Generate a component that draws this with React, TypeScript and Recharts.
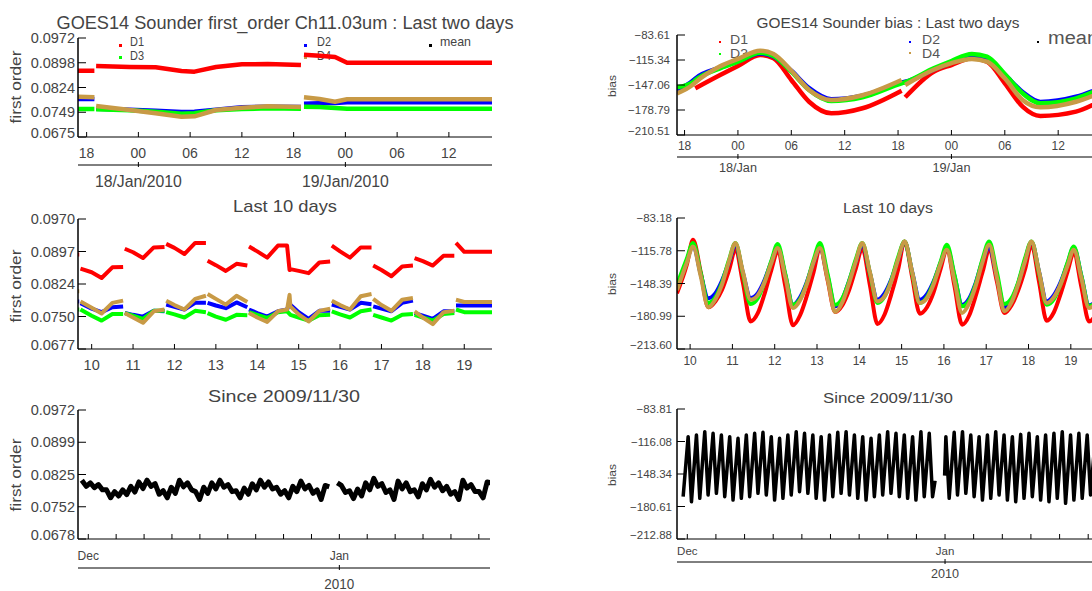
import { LineChart, Line, XAxis, YAxis } from 'recharts'

const FONT = '"Liberation Sans", Arial, sans-serif'
const INK = '#000'
const TXT = '#444'
const RED = '#ff0000'
const BLUE = '#0000ff'
const GREEN = '#00ff00'
const TAN = '#c89a46'

// ---- Last two days (hours from 18/Jan 00Z) ----
const TL_TIME = [-7, -5.1, -5.0, -4.9, -1, 2, 5, 6.5, 9, 12, 15, 18.85, 18.95, 19.2, 21, 22.8, 24.2, 30, 41]
const TL_D1 = [0.0874, 0.0874, null, 0.0888, 0.0885, 0.0884, 0.0873, 0.0871, 0.0885, 0.0893, 0.0894, 0.0891, null, 0.0922, 0.0919, 0.0915, 0.0898, 0.0898, 0.0898]
const TL_D2 = [0.0789, 0.0789, null, 0.076, 0.0757, 0.0754, 0.075, 0.0751, 0.0757, 0.0764, 0.0766, 0.0765, null, 0.0775, 0.0776, 0.0777, 0.0779, 0.0779, 0.0779]
const TL_D3 = [0.0759, 0.0759, null, 0.0758, 0.0755, 0.0751, 0.0745, 0.0746, 0.0755, 0.0759, 0.0761, 0.076, null, 0.0766, 0.0765, 0.0762, 0.076, 0.076, 0.076]
const TL_D4 = [0.0796, 0.0794, null, 0.0768, 0.0756, 0.0746, 0.0736, 0.0737, 0.0756, 0.0763, 0.0767, 0.0765, null, 0.0794, 0.0789, 0.0781, 0.0788, 0.0788, 0.0788]

const TR_TIME = [-6.85, -5, -4.9, -4.8, -2, 0, 2.5, 4, 6, 8, 10.5, 14, 18.4, 18.6, 18.8, 22, 24, 26.3, 28, 30, 32, 34, 38, 41.15]
const TR_D1 = [null, null, null, -151.3, -134.4, -122.9, -109, -113.2, -140.7, -168.3, -183, -176.6, -154.3, null, -162.7, -130.2, -121.7, -113.2, -117.5, -144.9, -174.6, -186.4, -180.9, -165]
const TR_D2 = [-153.4, -141, -140, -139, -125, -117, -107, -111, -129, -151, -165, -160.5, -144, -143.5, -143, -127.5, -118.5, -111.5, -114, -134, -156, -168.5, -162, -149]
const TR_D3 = [-150, -143, -142, -141, -125.9, -117.5, -106.1, -110.3, -130.2, -153.4, -167.4, -162.7, -144.9, -144.2, -143.5, -125.9, -116.6, -107.7, -111.1, -133.1, -157.6, -170.3, -164, -150]
const TR_D4 = [-157.6, -146, -145, -144, -123.4, -114, -103.5, -107.7, -129, -153.4, -166.1, -160, -140.7, null, -147, -127.7, -119.3, -114, -117.5, -138.6, -166.1, -175.4, -168.3, -155]

const HOUR_TICKS = [-6, 0, 6, 12, 18, 24, 30, 36]
const HOUR_LABELS = ['18', '00', '06', '12', '18', '00', '06', '12']

// ---- Last 10 days (day of January) ----
const ML_TIME = [
  9.67, 9.7, 9.71,
  9.73, 10.0, 10.24, 10.5, 10.76, 10.78,
  10.8, 11.0, 11.24, 11.5, 11.76, 11.78,
  11.8, 12.0, 12.24, 12.5, 12.76, 12.78,
  12.8, 13.0, 13.24, 13.5, 13.76, 13.78,
  13.8, 14.0, 14.24, 14.5, 14.72, 14.78,
  14.8, 15.0, 15.24, 15.5, 15.76, 15.78,
  15.8, 16.0, 16.24, 16.5, 16.76, 16.78,
  16.8, 17.0, 17.24, 17.5, 17.76, 17.78,
  17.8, 18.0, 18.24, 18.5, 18.76, 18.78,
  18.8, 19.0, 19.67,
]
const ML_D1 = [
  0.089, 0.089, null,
  0.0858, 0.085, 0.0837, 0.0861, 0.0862, null,
  0.0903, 0.0895, 0.0882, 0.0906, 0.0907, null,
  0.0914, 0.0905, 0.0891, 0.0916, 0.0916, null,
  0.0876, 0.0866, 0.0853, 0.0869, 0.0865, null,
  0.0908, 0.0897, 0.0883, 0.091, 0.091, 0.0855,
  0.0857, 0.0853, 0.0848, 0.0872, 0.0874, null,
  0.091, 0.0897, 0.0883, 0.0906, 0.0906, null,
  0.0865, 0.0855, 0.0841, 0.0863, 0.0865, null,
  0.0882, 0.0875, 0.0865, 0.0887, 0.0887, null,
  0.0916, 0.0896, 0.0896,
]
const ML_D2 = [
  0.0784, 0.0784, null,
  0.078, 0.0768, 0.076, 0.0771, 0.0773, null,
  0.0758, 0.0754, 0.075, 0.0763, 0.0762, null,
  0.0777, 0.0772, 0.0766, 0.0781, 0.0781, null,
  0.0781, 0.0775, 0.0769, 0.0782, 0.0771, null,
  0.0766, 0.0758, 0.075, 0.0762, 0.0766, 0.0781,
  0.0777, 0.076, 0.0745, 0.0763, 0.0763, null,
  0.0777, 0.0772, 0.0766, 0.0781, 0.0778, null,
  0.0773, 0.0768, 0.0762, 0.0781, 0.0786, null,
  0.0758, 0.0752, 0.0745, 0.0762, 0.0762, null,
  0.0775, 0.0775, 0.0775,
]
const ML_D3 = [
  0.0766, 0.0766, null,
  0.0766, 0.0752, 0.0741, 0.0756, 0.0756, null,
  0.0758, 0.0752, 0.0745, 0.0763, 0.0763, null,
  0.076, 0.0755, 0.0748, 0.0763, 0.076, null,
  0.0758, 0.075, 0.0743, 0.0754, 0.0753, null,
  0.076, 0.0754, 0.0747, 0.076, 0.0762, 0.0756,
  0.0754, 0.0748, 0.0741, 0.0753, 0.0754, null,
  0.0762, 0.0755, 0.0748, 0.0762, 0.0766, null,
  0.0754, 0.0748, 0.0741, 0.0754, 0.0756, null,
  0.0754, 0.0748, 0.0741, 0.0756, 0.0758, null,
  0.0766, 0.076, 0.076,
]
const ML_D4 = [
  0.0807, 0.0807, null,
  0.0784, 0.077, 0.0757, 0.0781, 0.0786, null,
  0.0758, 0.0748, 0.0736, 0.0762, 0.0766, null,
  0.0786, 0.0776, 0.0766, 0.079, 0.0797, null,
  0.0801, 0.079, 0.0777, 0.0797, 0.0783, null,
  0.0758, 0.0748, 0.0738, 0.0762, 0.0766, 0.0799,
  0.0773, 0.0755, 0.0739, 0.0763, 0.0768, null,
  0.0786, 0.0776, 0.0766, 0.0796, 0.0801, null,
  0.079, 0.0776, 0.0763, 0.0788, 0.0792, null,
  0.0762, 0.0748, 0.0733, 0.076, 0.0763, null,
  0.0788, 0.0783, 0.0783,
]

const MR_TIME = [
  9.69, 9.92,
  10.07, 10.25, 10.43, 10.6, 10.75, 10.92,
  11.07, 11.25, 11.43, 11.6, 11.75, 11.92,
  12.07, 12.25, 12.43, 12.6, 12.75, 12.92,
  13.07, 13.25, 13.43, 13.6, 13.75, 13.92,
  14.07, 14.25, 14.43, 14.6, 14.75, 14.92,
  15.07, 15.25, 15.43, 15.6, 15.75, 15.92,
  16.07, 16.25, 16.43, 16.6, 16.75, 16.92,
  17.07, 17.25, 17.43, 17.6, 17.75, 17.92,
  18.07, 18.25, 18.43, 18.6, 18.75, 18.92,
  19.07, 19.25, 19.43, 19.6, 19.69,
]
const MR_D1 = [
  -158, -130,
  -104.8, -137, -172.1, -166, -155, -135,
  -114.8, -148, -186.1, -178, -160, -135,
  -116.5, -151, -190, -180, -162, -137,
  -113, -145, -176.7, -170, -156, -133,
  -113.1, -150, -188.7, -179, -160, -134,
  -106.5, -142, -178.4, -172, -158, -134,
  -114.8, -151, -189.4, -180, -161, -136,
  -114.8, -146, -177.7, -170, -156, -134,
  -109.8, -147, -185.4, -177, -160, -137,
  -118.1, -152, -186.1, -178, -168,
]
const MR_D2 = [
  -152, -126,
  -110, -139, -163, -158, -146, -127,
  -110, -138, -162.8, -158, -146, -127,
  -112, -140, -169.5, -162, -148, -127,
  -112.5, -141, -171.1, -164, -147, -126,
  -110, -138, -164.5, -158, -145, -124,
  -107, -137, -164.5, -159, -147, -128,
  -112.5, -141, -169.5, -163, -148, -125,
  -112.5, -141, -172.1, -165, -149, -125,
  -107, -137, -166.2, -160, -148, -129,
  -112.5, -141, -170, -165, -158,
]
const MR_D3 = [
  -149.6, -124,
  -108.1, -138, -167.8, -162, -148, -125,
  -108.1, -139, -168.8, -163, -148, -126,
  -109.1, -139, -169.5, -164, -149, -125,
  -108.1, -139, -169.5, -163, -147, -124,
  -108.1, -138, -167.8, -161, -146, -122,
  -106.5, -138, -167.8, -162, -148, -127,
  -109.8, -140, -171.1, -165, -149, -123,
  -106.5, -137, -168.8, -163, -148, -123,
  -106.5, -138, -169.5, -164, -150, -128,
  -111.5, -141, -171.1, -166, -160,
]
const MR_D4 = [
  -155, -128,
  -111.5, -141, -172.1, -164, -150, -126,
  -108.1, -137, -164.5, -160, -148, -128,
  -113.1, -142, -172.8, -165, -150, -127,
  -113.1, -144, -176.7, -167, -149, -126,
  -108.1, -137, -166.2, -161, -147, -124,
  -106.5, -137, -167.8, -163, -150, -129,
  -114.8, -146, -177.7, -168, -151, -126,
  -109.8, -142, -176.1, -167, -150, -126,
  -106.5, -137, -167.8, -162, -150, -131,
  -114.8, -143, -172.8, -167, -160,
]

const DAY_TICKS = [10, 11, 12, 13, 14, 15, 16, 17, 18, 19]
const DAY_LABELS = ['10', '11', '12', '13', '14', '15', '16', '17', '18', '19']

// ---- Since 2009/11/30 (days from 1 Dec 00Z) ----
const BL_TIME = [
  -0.8, -0.25,
  0.25, 0.75, 1.25, 1.75, 2.25, 2.75, 3.25, 3.75, 4.25, 4.75, 5.25, 5.75, 6.25, 6.75, 7.25, 7.75, 8.25, 8.75, 9.25, 9.75,
  10.25, 10.75, 11.25, 11.75, 12.25, 12.75, 13.25, 13.75, 14.25, 14.75, 15.25, 15.75, 16.25, 16.75, 17.25, 17.75, 18.25, 18.75, 19.25, 19.75,
  20.25, 20.75, 21.25, 21.75, 22.25, 22.75, 23.25, 23.75, 24.25, 24.75, 25.25, 25.75, 26.25, 26.75, 27.25, 27.75, 28.25, 28.75, 29.25, 29.75,
  30.25, 30.75, 31.25, 31.75, 32.25, 32.75, 33.25, 33.75, 34.25, 34.75, 35.25, 35.75, 36.25, 36.75, 37.25, 37.75, 38.25, 38.75, 39.25, 39.75,
  40.25, 40.75, 41.25, 41.75, 42.25, 42.75, 43.25, 43.75, 44.25, 44.75, 45.25, 45.75, 46.25, 46.75, 47.25, 47.75, 48.25, 48.75, 49.25, 49.75,
]
const BL_MEAN = [
  0.0812, 0.0798,
  0.0806, 0.0795, 0.0802, 0.079, 0.079, 0.0772, 0.0786, 0.0776, 0.079, 0.0779, 0.0798, 0.0785, 0.0808, 0.0793, 0.0812, 0.0798, 0.0804, 0.078, 0.0788, 0.0772,
  0.0796, 0.0782, 0.0812, 0.0797, 0.0806, 0.079, 0.0786, 0.0768, 0.0796, 0.0782, 0.0806, 0.0792, 0.0812, 0.0796, 0.0802, 0.0786, 0.0788, 0.0772, 0.0794, 0.078,
  0.0804, 0.079, 0.0812, 0.0796, 0.0808, 0.0792, 0.0796, 0.078, 0.0788, 0.0772, 0.0798, 0.0786, 0.081, 0.0792, 0.08, 0.0782, 0.079, 0.0768, 0.08, 0.0797,
  null, 0.0806, 0.08, 0.0784, 0.0788, 0.077, 0.0792, 0.0776, 0.0806, 0.079, 0.0816, 0.0798, 0.0804, 0.0784, 0.079, 0.0768, 0.081, 0.0792, 0.0806, 0.0786,
  0.079, 0.0774, 0.0804, 0.079, 0.0814, 0.0796, 0.0806, 0.0788, 0.0798, 0.078, 0.0786, 0.0768, 0.0812, 0.0794, 0.0802, 0.0786, 0.0786, 0.0772, 0.0808, 0.0806,
]

const BR_TIME = [
  -0.5,
  0.1, 0.5, 1.1, 1.5, 2.1, 2.5, 3.1, 3.5, 4.1, 4.5, 5.1, 5.5, 6.1, 6.5, 7.1, 7.5, 8.1, 8.5, 9.1, 9.5,
  10.1, 10.5, 11.1, 11.5, 12.1, 12.5, 13.1, 13.5, 14.1, 14.5, 15.1, 15.5, 16.1, 16.5, 17.1, 17.5, 18.1, 18.5, 19.1, 19.5,
  20.1, 20.5, 21.1, 21.5, 22.1, 22.5, 23.1, 23.5, 24.1, 24.5, 25.1, 25.5, 26.1, 26.5, 27.1, 27.5, 28.1, 28.5, 29.1, 29.5,
  29.8, 30.4, 30.95,
  31.1, 31.5, 32.1, 32.5, 33.1, 33.5, 34.1, 34.5, 35.1, 35.5, 36.1, 36.5, 37.1, 37.5, 38.1, 38.5, 39.1, 39.5,
  40.1, 40.5, 41.1, 41.5, 42.1, 42.5, 43.1, 43.5, 44.1, 44.5, 45.1, 45.5, 46.1, 46.5, 47.1, 47.5, 48.1, 48.5,
  49.1, 49.5,
]
const BR_MEAN = [
  -170.9,
  -111.3, -175.9, -109.6, -172.5, -106.3, -169.2, -108.0, -167.5, -109.6, -170.9, -111.3, -174.2, -112.9, -172.5, -109.6, -170.9, -108.0, -167.5, -107.0, -169.2,
  -111.3, -174.2, -112.9, -172.5, -109.6, -169.2, -106.3, -165.9, -108.0, -167.5, -109.6, -172.5, -111.3, -174.2, -109.6, -170.9, -107.0, -167.5, -106.3, -169.2,
  -109.6, -172.5, -111.3, -174.2, -112.9, -170.9, -109.6, -169.2, -106.3, -167.5, -108.0, -170.9, -109.6, -172.5, -111.3, -174.2, -106.3, -170.9, -108.0, -171.0,
  -155, null, -150,
  -111.3, -172.5, -107.0, -169.2, -106.3, -167.5, -109.6, -170.9, -111.3, -174.2, -109.6, -172.5, -106.3, -169.2, -109.6, -174.2, -111.3, -175.9,
  -109.0, -172.5, -108.0, -170.9, -111.3, -174.2, -109.6, -175.9, -108.0, -172.5, -106.3, -177.5, -109.6, -174.2, -108.0, -172.5, -109.6, -169.2,
  -110.0, -170.0,
]

const MONTH_TICKS = [0, 3.44, 6.89, 10.33, 13.78, 17.22, 20.67, 24.11, 27.56, 31, 34.44, 37.89, 41.33, 44.78, 48.22]
const MONTH_LABELS = ['Dec', '', '', '', '', '', '', '', '', 'Jan', '', '', '', '', '']

// ---- y axes ----
const TL_Y_TICKS = [0.0675, 0.074925, 0.08235, 0.089775, 0.0972]
const TL_Y_LABELS = ['0.0675', '0.0749', '0.0824', '0.0898', '0.0972']
const TR_Y_TICKS = [-210.51, -178.785, -147.06, -115.335, -83.61]
const TR_Y_LABELS = ['\u2212210.51', '\u2212178.79', '\u2212147.06', '\u2212115.34', '\u221283.61']
const ML_Y_TICKS = [0.0677, 0.075025, 0.08235, 0.089675, 0.097]
const ML_Y_LABELS = ['0.0677', '0.0750', '0.0824', '0.0897', '0.0970']
const MR_Y_TICKS = [-213.6, -180.995, -148.39, -115.785, -83.18]
const MR_Y_LABELS = ['\u2212213.60', '\u2212180.99', '\u2212148.39', '\u2212115.78', '\u221283.18']
const BL_Y_TICKS = [0.0678, 0.07515, 0.0825, 0.08985, 0.0972]
const BL_Y_LABELS = ['0.0678', '0.0752', '0.0825', '0.0899', '0.0972']
const BR_Y_TICKS = [-212.88, -180.6125, -148.345, -116.0775, -83.81]
const BR_Y_LABELS = ['\u2212212.88', '\u2212180.61', '\u2212148.34', '\u2212116.08', '\u221283.81']

interface Series {
  name: string
  color: string
  values: (number | null)[]
}

interface PanelCfg {
  x: number
  y: number
  w: number
  h: number
  xDomain: [number, number]
  xTicks: number[]
  xLabels: string[]
  yDomain: [number, number]
  yTicks: number[]
  yLabels: string[]
  yFont: number
  xFont: number
  xDy: number
  gap: number
  tickLen: number
  stroke: number
  curve: 'linear' | 'monotone'
}

const PAD_L = 80
const PAD_T = 12
const PAD_R = 12
const PAD_B = 36

function Panel({ cfg, time, series }: { cfg: PanelCfg; time: number[]; series: Series[] }) {
  const width = PAD_L + cfg.w + PAD_R
  const height = PAD_T + cfg.h + PAD_B

  const yTick = (props: any) => {
    const { x, y, payload } = props
    const i = cfg.yTicks.indexOf(payload.value)
    return (
      <g>
        <line x1={x} x2={x + cfg.tickLen} y1={y} y2={y} stroke={INK} />
        <text
          x={x - cfg.gap}
          y={i === 0 ? y - 4 : y}
          textAnchor="end"
          dominantBaseline="central"
          fontSize={cfg.yFont}
          fontFamily={FONT}
          fill={TXT}
        >
          {cfg.yLabels[i]}
        </text>
      </g>
    )
  }
  const yTickRight = (props: any) => (
    <line x1={props.x} x2={props.x - cfg.tickLen} y1={props.y} y2={props.y} stroke={INK} />
  )
  const xTick = (props: any) => {
    const { x, y, payload } = props
    const i = cfg.xTicks.indexOf(payload.value)
    return (
      <g>
        <line x1={x} x2={x} y1={y} y2={y - 5} stroke={INK} />
        {cfg.xLabels[i] ? (
          <text x={x} y={y + cfg.xDy} textAnchor="middle" fontSize={cfg.xFont} fontFamily={FONT} fill={TXT}>
            {cfg.xLabels[i]}
          </text>
        ) : null}
      </g>
    )
  }
  const xTickTop = (props: any) => (
    <line x1={props.x} x2={props.x} y1={props.y} y2={props.y + 5} stroke={INK} />
  )

  return (
    <div style={{ position: 'absolute', left: cfg.x - PAD_L, top: cfg.y - PAD_T }}>
      <LineChart width={width} height={height} margin={{ top: PAD_T, right: PAD_R, bottom: 0, left: 0 }}>
        <XAxis
          xAxisId="b"
          type="number"
          dataKey="t"
          domain={cfg.xDomain}
          ticks={cfg.xTicks}
          allowDataOverflow
          interval={0}
          height={PAD_B}
          tickSize={0}
          tickMargin={0}
          tickLine={false}
          axisLine={{ stroke: INK }}
          tick={xTick}
        />
        <XAxis
          xAxisId="top"
          orientation="top"
          type="number"
          dataKey="t"
          domain={cfg.xDomain}
          ticks={cfg.xTicks}
          allowDataOverflow
          interval={0}
          height={0}
          tickSize={0}
          tickMargin={0}
          tickLine={false}
          axisLine={{ stroke: INK }}
          tick={xTickTop}
        />
        <YAxis
          yAxisId="l"
          type="number"
          domain={cfg.yDomain}
          ticks={cfg.yTicks}
          allowDataOverflow
          interval={0}
          width={PAD_L}
          tickSize={0}
          tickMargin={0}
          tickLine={false}
          axisLine={{ stroke: INK, strokeWidth: 1.5 }}
          tick={yTick}
        />
        <YAxis
          yAxisId="r"
          orientation="right"
          type="number"
          domain={cfg.yDomain}
          ticks={cfg.yTicks}
          allowDataOverflow
          interval={0}
          width={0}
          tickSize={0}
          tickMargin={0}
          tickLine={false}
          axisLine={{ stroke: INK }}
          tick={yTickRight}
        />
        {series.map((s) => (
          <Line
            key={s.name}
            xAxisId="b"
            yAxisId="l"
            data={time.map((t, i) => ({ t, v: s.values[i] }))}
            dataKey="v"
            type={cfg.curve}
            stroke={s.color}
            strokeWidth={cfg.stroke}
            strokeLinejoin="round"
            dot={false}
            connectNulls={false}
            isAnimationActive={false}
          />
        ))}
      </LineChart>
    </div>
  )
}

const TL_CFG: PanelCfg = {
  x: 78, y: 38, w: 414, h: 99,
  xDomain: [-7, 41], xTicks: HOUR_TICKS, xLabels: HOUR_LABELS,
  yDomain: [0.0675, 0.0972], yTicks: TL_Y_TICKS, yLabels: TL_Y_LABELS,
  yFont: 14.5, xFont: 14, xDy: 21, gap: 3, tickLen: 8, stroke: 4.5, curve: 'linear',
}
const TR_CFG: PanelCfg = {
  x: 677, y: 35, w: 427, h: 100,
  xDomain: [-6.85, 41.15], xTicks: HOUR_TICKS, xLabels: HOUR_LABELS,
  yDomain: [-210.51, -83.61], yTicks: TR_Y_TICKS, yLabels: TR_Y_LABELS,
  yFont: 11.5, xFont: 12, xDy: 15, gap: 7, tickLen: 8, stroke: 4.5, curve: 'monotone',
}
const ML_CFG: PanelCfg = {
  x: 78, y: 219, w: 414, h: 130,
  xDomain: [9.67, 19.67], xTicks: DAY_TICKS, xLabels: DAY_LABELS,
  yDomain: [0.0677, 0.097], yTicks: ML_Y_TICKS, yLabels: ML_Y_LABELS,
  yFont: 14.5, xFont: 14.5, xDy: 21, gap: 3, tickLen: 8, stroke: 4, curve: 'linear',
}
const MR_CFG: PanelCfg = {
  x: 677, y: 218, w: 423, h: 131,
  xDomain: [9.69, 19.69], xTicks: DAY_TICKS, xLabels: DAY_LABELS,
  yDomain: [-213.6, -83.18], yTicks: MR_Y_TICKS, yLabels: MR_Y_LABELS,
  yFont: 11.5, xFont: 12, xDy: 16, gap: 5, tickLen: 8, stroke: 4, curve: 'monotone',
}
const BL_CFG: PanelCfg = {
  x: 78, y: 410, w: 412, h: 129,
  xDomain: [-1.27, 49.6], xTicks: MONTH_TICKS, xLabels: MONTH_LABELS,
  yDomain: [0.0678, 0.0972], yTicks: BL_Y_TICKS, yLabels: BL_Y_LABELS,
  yFont: 14.5, xFont: 12, xDy: 21, gap: 3, tickLen: 8, stroke: 5, curve: 'linear',
}
const BR_CFG: PanelCfg = {
  x: 677, y: 409, w: 424, h: 130,
  xDomain: [-1.24, 49.76], xTicks: MONTH_TICKS, xLabels: MONTH_LABELS,
  yDomain: [-212.88, -83.81], yTicks: BR_Y_TICKS, yLabels: BR_Y_LABELS,
  yFont: 11.5, xFont: 11.5, xDy: 16, gap: 5, tickLen: 8, stroke: 3.5, curve: 'linear',
}

function xPos(cfg: PanelCfg, t: number) {
  return cfg.x + ((t - cfg.xDomain[0]) / (cfg.xDomain[1] - cfg.xDomain[0])) * cfg.w
}

function Label({ x, y, size, len, children, anchor = 'middle', rotate = false, fill = TXT }: any) {
  return (
    <text
      x={rotate ? 0 : x}
      y={rotate ? 0 : y}
      transform={rotate ? `translate(${x},${y}) rotate(-90)` : undefined}
      textAnchor={anchor}
      dominantBaseline={rotate ? 'central' : undefined}
      fontSize={size}
      textLength={len}
      lengthAdjust="spacingAndGlyphs"
      fill={fill}
    >
      {children}
    </text>
  )
}

function DateRule({ cfg, y, at, labels, labelY, size, len }: any) {
  return (
    <g>
      <line x1={cfg.x} x2={cfg.x + cfg.w} y1={y} y2={y} stroke={INK} />
      {at.map((t: number, i: number) => (
        <g key={i}>
          <line x1={xPos(cfg, t)} x2={xPos(cfg, t)} y1={y - 3} y2={y + 2} stroke={INK} />
          {labels[i] ? (
            <Label x={xPos(cfg, t)} y={labelY} size={size} len={len}>
              {labels[i]}
            </Label>
          ) : null}
        </g>
      ))}
    </g>
  )
}

function Overlay() {
  return (
    <svg width={1092} height={591} style={{ position: 'absolute', left: 0, top: 0 }} fontFamily={FONT}>
      <Label x={285} y={29} size={17.5} len={457}>GOES14 Sounder first_order Ch11.03um : Last two days</Label>
      <Label x={888} y={28} size={14} len={263}>GOES14 Sounder bias : Last two days</Label>
      <Label x={285} y={212} size={17} len={104}>Last 10 days</Label>
      <Label x={888} y={213} size={14} len={90}>Last 10 days</Label>
      <Label x={284} y={402} size={17} len={152}>Since 2009/11/30</Label>
      <Label x={888} y={403} size={14} len={130}>Since 2009/11/30</Label>

      <Label x={15} y={87} size={15} len={73} rotate>first order</Label>
      <Label x={15} y={286} size={15} len={73} rotate>first order</Label>
      <Label x={15} y={475} size={15} len={73} rotate>first order</Label>
      <Label x={612} y={86} size={11.5} len={22} rotate>bias</Label>
      <Label x={612} y={284} size={11.5} len={22} rotate>bias</Label>
      <Label x={612} y={475} size={11.5} len={22} rotate>bias</Label>

      {/* legend, first order */}
      <rect x={119} y={44} width={3} height={3} fill={RED} />
      <rect x={119} y={56} width={3} height={3} fill={GREEN} />
      <rect x={304} y={44} width={3} height={3} fill={BLUE} />
      <rect x={304} y={56} width={3} height={3} fill={TAN} />
      <rect x={429} y={44} width={3} height={3} fill={INK} />
      <Label x={130} y={46} size={12} len={14} anchor="start">D1</Label>
      <Label x={130} y={59.5} size={12} len={14} anchor="start">D3</Label>
      <Label x={317} y={46} size={12} len={14} anchor="start">D2</Label>
      <Label x={317} y={59.5} size={12} len={14} anchor="start">D4</Label>
      <Label x={440} y={46} size={13.5} len={31} anchor="start">mean</Label>

      {/* legend, bias */}
      <rect x={719} y={41} width={2} height={2} fill={RED} />
      <rect x={719} y={53} width={2} height={2} fill={GREEN} />
      <rect x={909} y={41} width={2} height={2} fill={BLUE} />
      <rect x={909} y={52} width={2} height={2} fill={TAN} />
      <rect x={1037} y={41} width={2} height={2} fill={INK} />
      <Label x={730} y={43.5} size={12.5} len={18} anchor="start" fill="#555">D1</Label>
      <Label x={730} y={57.5} size={12.5} len={18} anchor="start" fill="#555">D3</Label>
      <Label x={922} y={43.5} size={12.5} len={18} anchor="start" fill="#555">D2</Label>
      <Label x={922} y={57.5} size={12.5} len={18} anchor="start" fill="#555">D4</Label>
      <Label x={1048} y={43.5} size={18} len={50} anchor="start" fill="#555">mean</Label>

      <DateRule cfg={TL_CFG} y={165} at={[0, 24]} labels={['18/Jan/2010', '19/Jan/2010']} labelY={187} size={16} len={87} />
      <DateRule cfg={TR_CFG} y={157} at={[0, 24]} labels={['18/Jan', '19/Jan']} labelY={172} size={12} len={38} />
      <DateRule cfg={BL_CFG} y={568} at={[31]} labels={['2010']} labelY={589} size={14} len={30} />
      <DateRule cfg={BR_CFG} y={562} at={[31]} labels={['2010']} labelY={578} size={13} len={28} />
    </svg>
  )
}

export default function App() {
  return (
    <div
      style={{
        position: 'fixed',
        left: 0,
        top: 0,
        width: 1092,
        height: 591,
        overflow: 'hidden',
        background: '#fff',
        fontFamily: FONT,
      }}
    >
      <Overlay />
      <Panel
        cfg={TL_CFG}
        time={TL_TIME}
        series={[
          { name: 'D1', color: RED, values: TL_D1 },
          { name: 'D2', color: BLUE, values: TL_D2 },
          { name: 'D3', color: GREEN, values: TL_D3 },
          { name: 'D4', color: TAN, values: TL_D4 },
        ]}
      />
      <Panel
        cfg={TR_CFG}
        time={TR_TIME}
        series={[
          { name: 'D1', color: RED, values: TR_D1 },
          { name: 'D2', color: BLUE, values: TR_D2 },
          { name: 'D3', color: GREEN, values: TR_D3 },
          { name: 'D4', color: TAN, values: TR_D4 },
        ]}
      />
      <Panel
        cfg={ML_CFG}
        time={ML_TIME}
        series={[
          { name: 'D1', color: RED, values: ML_D1 },
          { name: 'D2', color: BLUE, values: ML_D2 },
          { name: 'D3', color: GREEN, values: ML_D3 },
          { name: 'D4', color: TAN, values: ML_D4 },
        ]}
      />
      <Panel
        cfg={MR_CFG}
        time={MR_TIME}
        series={[
          { name: 'D1', color: RED, values: MR_D1 },
          { name: 'D2', color: BLUE, values: MR_D2 },
          { name: 'D3', color: GREEN, values: MR_D3 },
          { name: 'D4', color: TAN, values: MR_D4 },
        ]}
      />
      <Panel cfg={BL_CFG} time={BL_TIME} series={[{ name: 'mean', color: INK, values: BL_MEAN }]} />
      <Panel cfg={BR_CFG} time={BR_TIME} series={[{ name: 'mean', color: INK, values: BR_MEAN }]} />
    </div>
  )
}
